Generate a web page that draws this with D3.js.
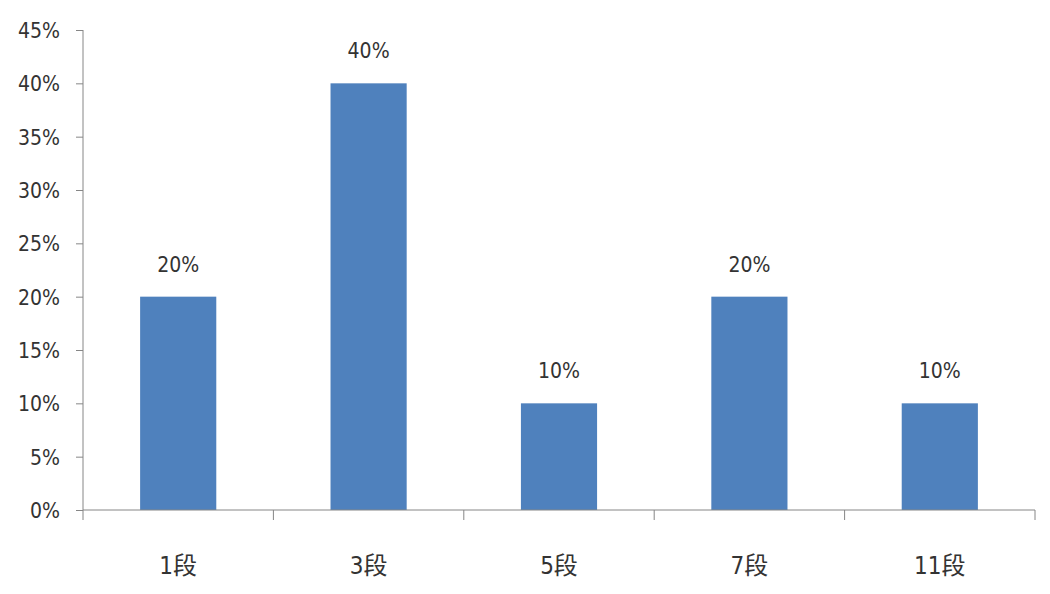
<!DOCTYPE html>
<html>
<head>
<meta charset="utf-8">
<script src="https://cdn.jsdelivr.net/npm/d3@7"></script>
<style>
  body { margin: 0; background: #fff; }
  text { font-family: "DejaVu Sans", "Noto Sans CJK SC", sans-serif; font-stretch: condensed; fill: #333; }
</style>
</head>
<body>
<svg></svg>
<script>
var categories = ['1段', '3段', '5段', '7段', '11段'];
var values = [0.20, 0.40, 0.10, 0.20, 0.10];
var yTicks = [0, 0.05, 0.10, 0.15, 0.20, 0.25, 0.30, 0.35, 0.40, 0.45];

// plot area
var margin = { top: 30, right: 15, bottom: 84, left: 83 },
  width = 1050 - margin.left - margin.right,
  height = 594 - margin.top - margin.bottom;

var svg = d3.select('svg')
  .attr('width', 1050)
  .attr('height', 594),
  g = svg.append('g')
  .attr('transform', 'translate(' + margin.left + ',' + margin.top + ')');

var x = d3.scaleBand().domain(categories).range([0, width]).paddingInner(0.6).paddingOuter(0.3);
var band = width / categories.length;
var y = d3.scaleLinear().domain([0, 0.45]).range([height, 0]);

// bars
g.selectAll('.bar')
  .data(values)
  .enter().append('rect')
  .attr('class', 'bar')
  .attr('x', function (d, i) { return x(categories[i]); })
  .attr('y', function (d) { return y(d); })
  .attr('width', x.bandwidth())
  .attr('height', function (d) { return height - y(d); })
  .attr('fill', '#4f81bd');

// value labels
g.selectAll('.val')
  .data(values)
  .enter().append('text')
  .attr('class', 'val')
  .attr('x', function (d, i) { return x(categories[i]) + x.bandwidth() / 2; })
  .attr('y', function (d) { return y(d) - 25; })
  .style('text-anchor', 'middle')
  .style('font-size', '21px')
  .text(function (d) { return Math.round(d * 100) + '%'; });

// y axis
var yAxis = g.append('g')
  .call(d3.axisLeft(y).tickValues(yTicks).tickSize(7).tickPadding(16)
    .tickFormat(function (d) { return Math.round(d * 100) + '%'; }));
yAxis.selectAll('text').style('font-size', '21px').attr('dy', '0.35em');
yAxis.selectAll('line, path').attr('stroke', '#868686');
yAxis.select('.domain').attr('d', 'M0,' + height + 'V0');

// x axis with ticks at category boundaries
var xAxis = g.append('g')
  .attr('transform', 'translate(0,' + height + ')');
xAxis.append('line')
  .attr('x1', 0).attr('x2', width)
  .attr('stroke', '#868686');
xAxis.selectAll('.xt')
  .data(d3.range(categories.length + 1))
  .enter().append('line')
  .attr('x1', function (i) { return i * band; })
  .attr('x2', function (i) { return i * band; })
  .attr('y1', 0).attr('y2', 10)
  .attr('stroke', '#868686');
xAxis.selectAll('.xl')
  .data(categories)
  .enter().append('text')
  .attr('x', function (d) { return x(d) + x.bandwidth() / 2; })
  .attr('y', 64)
  .style('text-anchor', 'middle')
  .style('font-size', '24px')
  .text(function (d) { return d; });
</script>
</body>
</html>
